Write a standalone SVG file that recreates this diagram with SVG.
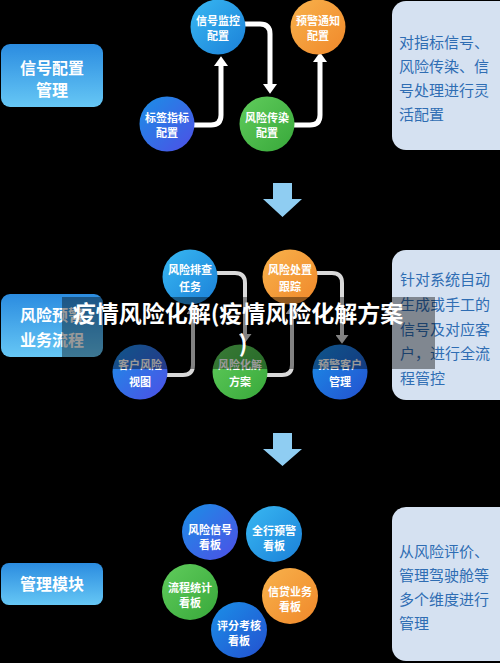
<svg xmlns="http://www.w3.org/2000/svg" width="500" height="663" viewBox="0 0 500 663">
<defs>
<linearGradient id="gBox" x1="0" y1="0" x2="0" y2="1"><stop offset="0" stop-color="#2b8ce0"/><stop offset="1" stop-color="#66c7f5"/></linearGradient>
<linearGradient id="gLight" x1="0" y1="0" x2="1" y2="1"><stop offset="0" stop-color="#38b8f2"/><stop offset="1" stop-color="#1b80d8"/></linearGradient>
<linearGradient id="gPurple" x1="0" y1="0" x2="1" y2="1"><stop offset="0" stop-color="#1a90e6"/><stop offset="1" stop-color="#4e4ee6"/></linearGradient>
<linearGradient id="gGreen" x1="0" y1="0" x2="1" y2="1"><stop offset="0" stop-color="#60cc5c"/><stop offset="1" stop-color="#38a83a"/></linearGradient>
<linearGradient id="gOrange" x1="0" y1="0" x2="1" y2="1"><stop offset="0" stop-color="#f8b24c"/><stop offset="1" stop-color="#f0882a"/></linearGradient>
<linearGradient id="gDeep" x1="0" y1="0" x2="1" y2="1"><stop offset="0" stop-color="#1a90e8"/><stop offset="1" stop-color="#2450cf"/></linearGradient>
<marker id="aw" markerUnits="userSpaceOnUse" markerWidth="10" markerHeight="14" viewBox="0 0 9 13" refX="0" refY="6.5" orient="auto"><path d="M0,0 L9,6.5 L0,13 z" fill="#ffffff"/></marker>
<marker id="ag" markerUnits="userSpaceOnUse" markerWidth="9" markerHeight="13" viewBox="0 0 8 12" refX="0" refY="6" orient="auto"><path d="M0,0 L8,6 L0,12 z" fill="#d9d9d9"/></marker>
</defs>
<style>
.lbl{font-family:"Noto Sans CJK SC","Noto Sans",sans-serif;font-weight:bold;fill:#fff;font-size:11px;text-anchor:middle}
.bt{font-family:"Noto Sans CJK SC","Noto Sans",sans-serif;font-weight:bold;fill:#fff;font-size:16px;text-anchor:middle}
.desc{font-family:"Noto Sans CJK SC","Noto Sans",sans-serif;fill:#2f6db3;font-size:15px}
.dbox{fill:#d5e1f1}
.conn{fill:none;stroke:#fff;stroke-width:5;stroke-linejoin:round}
.conn2{fill:none;stroke:#d9d9d9;stroke-width:4;stroke-linejoin:round}
.big{fill:#8fcdf2}
.title{font-family:"Noto Sans CJK SC","Noto Sans",sans-serif;font-weight:bold;fill:#fff;font-size:23px;text-anchor:middle}
</style>
<rect x="0" y="0" width="500" height="663" fill="#000"/>

<g id="box-top"><rect x="1" y="44" width="102" height="63" rx="9" fill="url(#gBox)"/><text class="bt" x="52" y="73.5">信号配置</text><text class="bt" x="52" y="95.5">管理</text></g>
<g id="box-mid"><rect x="1" y="294" width="102" height="63" rx="9" fill="url(#gBox)"/><text class="bt" x="52" y="321">风险预警</text><text class="bt" x="52" y="346">业务流程</text></g>
<g id="box-bot"><rect x="1" y="563" width="102" height="42" rx="8" fill="url(#gBox)"/><text class="bt" x="52" y="590">管理模块</text></g>

<g id="desc-top"><rect class="dbox" x="392" y="1" width="130" height="149" rx="14"/>
<text class="desc" x="399" y="48">对指标信号、</text><text class="desc" x="399" y="72">风险传染、信</text><text class="desc" x="399" y="96">号处理进行灵</text><text class="desc" x="399" y="120">活配置</text></g>
<g id="desc-mid"><rect class="dbox" x="392" y="250" width="130" height="150" rx="14"/>
<text class="desc" x="400" y="285">针对系统自动</text><text class="desc" x="400" y="310">生成或手工的</text><text class="desc" x="400" y="335">信号及对应客</text><text class="desc" x="400" y="359">户，进行全流</text><text class="desc" x="400" y="384">程管控</text></g>
<g id="desc-bot"><rect class="dbox" x="392" y="507" width="130" height="154" rx="14"/>
<text class="desc" x="399" y="557">从风险评价、</text><text class="desc" x="399" y="581">管理驾驶舱等</text><text class="desc" x="399" y="605">多个维度进行</text><text class="desc" x="399" y="629">管理</text></g>

<g id="connectors">
<path class="conn" d="M194,125 H211 Q221,125 221,115 V66" marker-end="url(#aw)"/>
<path class="conn" d="M245,24 H260 Q270,24 270,34 V84" marker-end="url(#aw)"/>
<path class="conn" d="M294,125 H310 Q320,125 320,115 V62" marker-end="url(#aw)"/>
<path class="conn2" d="M167,375 H183 Q193,375 193,365 V314" marker-end="url(#ag)"/>
<path class="conn2" d="M217,273 H235 Q245,273 245,283 V334" marker-end="url(#ag)"/>
<path class="conn2" d="M267,375 H282 Q292,375 292,365 V314" marker-end="url(#ag)"/>
<path class="conn2" d="M317,273 H332 Q342,273 342,283 V335" marker-end="url(#ag)"/>
<polygon class="big" points="273,183 292,183 292,199 302,199 282.5,217 263,199 273,199"/>
<polygon class="big" points="273,433 292,433 292,449 302,449 282.5,466 263,449 273,449"/>
</g>

<g id="n-xhjk"><circle cx="218" cy="27" r="27.5" fill="url(#gLight)"/><text class="lbl" x="218" y="25">信号监控</text><text class="lbl" x="218" y="40">配置</text></g>
<g id="n-yjtz"><circle cx="318" cy="27" r="27.5" fill="url(#gOrange)"/><text class="lbl" x="318" y="25">预警通知</text><text class="lbl" x="318" y="40">配置</text></g>
<g id="n-bqzb"><circle cx="167" cy="124" r="27.5" fill="url(#gPurple)"/><text class="lbl" x="167" y="122">标签指标</text><text class="lbl" x="167" y="137">配置</text></g>
<g id="n-fxcr"><circle cx="267" cy="124" r="27.5" fill="url(#gGreen)"/><text class="lbl" x="267" y="122">风险传染</text><text class="lbl" x="267" y="137">配置</text></g>

<g id="n-fxpc"><circle cx="190" cy="277" r="27.5" fill="url(#gLight)"/><text class="lbl" x="190" y="274">风险排查</text><text class="lbl" x="190" y="291">任务</text></g>
<g id="n-fxcz"><circle cx="290" cy="277" r="27.5" fill="url(#gOrange)"/><text class="lbl" x="290" y="274">风险处置</text><text class="lbl" x="290" y="291">跟踪</text></g>
<g id="n-khfx"><circle cx="140" cy="372" r="27.5" fill="url(#gPurple)"/><text class="lbl" x="140" y="369">客户风险</text><text class="lbl" x="140" y="386">视图</text></g>
<g id="n-fxhj"><circle cx="240" cy="372" r="27.5" fill="url(#gGreen)"/><text class="lbl" x="240" y="369">风险化解</text><text class="lbl" x="240" y="386">方案</text></g>
<g id="n-yjkh"><circle cx="340" cy="372" r="27.5" fill="url(#gDeep)"/><text class="lbl" x="340" y="369">预警客户</text><text class="lbl" x="340" y="386">管理</text></g>

<g id="n-fxxh"><circle cx="210" cy="532" r="28" fill="url(#gPurple)"/><text class="lbl" x="210" y="534">风险信号</text><text class="lbl" x="210" y="549">看板</text></g>
<g id="n-qhyj"><circle cx="274" cy="534" r="28" fill="url(#gLight)"/><text class="lbl" x="274" y="535">全行预警</text><text class="lbl" x="274" y="550">看板</text></g>
<g id="n-lctj"><circle cx="190" cy="592" r="28" fill="url(#gGreen)"/><text class="lbl" x="190" y="592">流程统计</text><text class="lbl" x="190" y="607">看板</text></g>
<g id="n-xdyw"><circle cx="290" cy="596" r="28" fill="url(#gOrange)"/><text class="lbl" x="290" y="596">信贷业务</text><text class="lbl" x="290" y="611">看板</text></g>
<g id="n-pfkh"><circle cx="239" cy="630" r="28" fill="url(#gDeep)"/><text class="lbl" x="239" y="630">评分考核</text><text class="lbl" x="239" y="645">看板</text></g>

<g id="title-overlay">
<rect x="62" y="297" width="373" height="72" fill="#000" opacity="0.4"/>
<text class="title" x="238" y="322">疫情风险化解(疫情风险化解方案</text>
<text class="title" x="243" y="352">)</text>
</g>
</svg>
